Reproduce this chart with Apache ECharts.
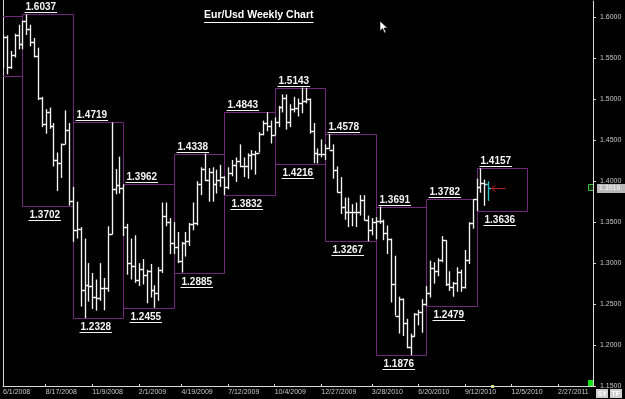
<!DOCTYPE html>
<html><head><meta charset="utf-8">
<script src="https://cdn.jsdelivr.net/npm/echarts@6/dist/echarts.min.js"></script>
<style>html,body{margin:0;padding:0;background:#000;}#c{width:625px;height:399px;}</style>
</head><body><div id="c"></div>
<script>
// ---------- DATA ----------
const titleText = 'Eur/Usd Weekly Chart';
const firstWeek = [2008, 3, 6];           // first weekly bar: Sunday 4/6/2008
const firstVisibleWeek = '6/1/2008';
const lastAxisWeek = '2/27/2011';
const tickLabels = ['6/1/2008','8/17/2008','11/9/2008','2/1/2009','4/19/2009','7/12/2009','10/4/2009','12/27/2009','3/28/2010','6/20/2010','9/12/2010','12/5/2010','2/27/2011'];
const priceTicks = [1.15, 1.20, 1.25, 1.30, 1.35, 1.40, 1.45, 1.50, 1.55, 1.60];
const currentPrice = 1.3916;

const opens = [
1.5750,1.5810,1.5910,1.5650,1.5470,1.5380,1.5500,1.5760,
1.5540,1.5760,1.5400,1.5540,1.5780,1.5670,1.5950,1.5860,1.5700,1.5530,1.5010,1.4700,1.4840,1.4680,1.4260,1.4220,1.4460,1.4620,
1.3760,1.3410,1.3420,1.2670,1.2730,1.2720,1.2590,1.2570,1.2700,1.2700,1.3350,1.3900,1.3950,
1.3920,1.3440,1.3000,1.2960,1.2800,1.2930,1.2850,1.2900,1.2670,1.2630,1.2920,1.3580,1.3500,
1.3250,1.3200,1.3030,1.3250,1.3270,1.3480,1.3490,1.3970,1.4150,1.4020,1.4110,1.3960,1.4020,
1.4050,1.3930,1.4100,1.4200,1.4250,1.4180,1.4190,1.4320,1.4330,1.4350,1.4580,1.4710,1.4680,
1.4570,1.4720,1.4910,1.5010,1.4720,1.4880,1.4890,1.4960,1.4980,1.5000,1.4610,1.4340,1.4330,
1.4330,1.4410,1.4380,1.4140,1.3870,1.3680,1.3620,1.3620,1.3630,1.3630,1.3770,1.3530,1.3410,
1.3500,1.3510,1.3510,1.3370,1.3290,1.2750,1.2360,1.2560,1.2270,1.1970,1.2110,1.2380,1.2400,
1.2500,1.2640,1.2940,1.2910,1.3040,1.3280,1.2750,1.2710,1.2760,1.2890,1.2710,1.3040,1.3490,
1.3780,1.3930,1.3980,1.3960];
const highs = [
1.5915,1.5980,1.6019,1.5700,1.5540,1.5560,1.5790,1.5820,
1.5785,1.5780,1.5590,1.5800,1.5910,1.5960,1.6037,1.5910,1.5750,1.5630,1.5030,1.4880,1.4900,1.4710,1.4350,1.4460,1.4865,1.4710,
1.3930,1.3750,1.3440,1.3300,1.3000,1.2880,1.2800,1.3000,1.2820,1.3450,1.4719,1.4150,1.4300,
1.3962,1.3480,1.3300,1.3340,1.3000,1.3050,1.2920,1.2990,1.2730,1.2950,1.3740,1.3740,1.3550,
1.3500,1.3380,1.3260,1.3380,1.3490,1.3740,1.4000,1.4170,1.4338,1.4160,1.4170,1.4140,1.4200,
1.4060,1.4170,1.4260,1.4290,1.4450,1.4290,1.4340,1.4380,1.4370,1.4600,1.4740,1.4843,1.4740,
1.4780,1.4920,1.5060,1.5060,1.4940,1.5030,1.5010,1.5143,1.5140,1.5010,1.4710,1.4400,1.4510,
1.4450,1.4578,1.4450,1.4180,1.4050,1.3800,1.3800,1.3720,1.3740,1.3830,1.3830,1.3580,1.3550,
1.3560,1.3691,1.3530,1.3460,1.3300,1.3090,1.2590,1.2570,1.2320,1.2140,1.2390,1.2430,1.2560,
1.2720,1.3030,1.3010,1.3060,1.3330,1.3280,1.2900,1.2770,1.2950,1.2920,1.3160,1.3500,1.3782,
1.4030,1.4157,1.4020,1.4000];
const lows = [
1.5680,1.5710,1.5610,1.5380,1.5330,1.5285,1.5480,1.5490,
1.5380,1.5305,1.5370,1.5510,1.5610,1.5610,1.5785,1.5645,1.5510,1.4990,1.4660,1.4580,1.4640,1.4180,1.3880,1.4040,1.4450,1.3702,
1.3260,1.3300,1.2470,1.2328,1.2530,1.2440,1.2420,1.2540,1.2425,1.2650,1.3350,1.3840,1.3850,
1.3330,1.2860,1.2800,1.2760,1.2720,1.2740,1.2510,1.2580,1.2455,1.2540,1.2880,1.3450,1.3110,
1.3110,1.3000,1.2885,1.3080,1.3210,1.3400,1.3460,1.3830,1.4000,1.3750,1.3750,1.3850,1.3930,
1.3832,1.3900,1.4060,1.3990,1.4170,1.4050,1.4030,1.4140,1.4080,1.4350,1.4560,1.4610,1.4460,
1.4560,1.4660,1.4840,1.4630,1.4660,1.4840,1.4790,1.4830,1.4950,1.4580,1.4220,1.4216,1.4290,
1.4260,1.4390,1.4030,1.3860,1.3600,1.3530,1.3440,1.3450,1.3440,1.3580,1.3520,1.3267,1.3340,
1.3290,1.3480,1.3280,1.3110,1.2520,1.2360,1.2140,1.2110,1.1960,1.1876,1.2100,1.2240,1.2150,
1.2479,1.2580,1.2750,1.2840,1.3010,1.2720,1.2660,1.2590,1.2650,1.2650,1.2690,1.2990,1.3420,
1.3636,1.3860,1.3700,1.3760];
const closes = [
1.5810,1.5910,1.5650,1.5470,1.5380,1.5500,1.5760,1.5540,
1.5760,1.5400,1.5540,1.5780,1.5670,1.5950,1.5860,1.5700,1.5530,1.5010,1.4700,1.4840,1.4680,1.4260,1.4220,1.4460,1.4620,1.3760,
1.3410,1.3420,1.2670,1.2730,1.2720,1.2590,1.2570,1.2700,1.2700,1.3350,1.3900,1.3950,1.3920,
1.3440,1.3000,1.2960,1.2800,1.2930,1.2850,1.2900,1.2670,1.2630,1.2920,1.3580,1.3500,1.3250,
1.3200,1.3030,1.3250,1.3270,1.3480,1.3490,1.3970,1.4150,1.4020,1.4110,1.3960,1.4020,1.4050,
1.3930,1.4100,1.4200,1.4250,1.4180,1.4190,1.4320,1.4330,1.4350,1.4580,1.4710,1.4680,1.4570,
1.4720,1.4910,1.5010,1.4720,1.4880,1.4890,1.4960,1.4980,1.5000,1.4610,1.4340,1.4330,1.4330,
1.4410,1.4380,1.4140,1.3870,1.3680,1.3620,1.3620,1.3630,1.3630,1.3770,1.3530,1.3410,1.3500,
1.3510,1.3510,1.3370,1.3290,1.2750,1.2360,1.2560,1.2270,1.1970,1.2110,1.2380,1.2400,1.2500,
1.2640,1.2940,1.2910,1.3040,1.3280,1.2750,1.2710,1.2760,1.2890,1.2710,1.3040,1.3490,1.3780,
1.3930,1.3980,1.3960,1.3916];

// ---------- BUILD ----------
const DAY = 86400000;
const t0 = Date.UTC(firstWeek[0], firstWeek[1], firstWeek[2]);
const fmt = d => (d.getUTCMonth() + 1) + '/' + d.getUTCDate() + '/' + d.getUTCFullYear();
const categories = [];
const catDates = [];
for (let k = 0; ; k++) {
  const d = new Date(t0 + k * 7 * DAY);
  categories.push(fmt(d)); catDates.push(d);
  if (fmt(d) === lastAxisWeek) { for (let j = 1; j <= 12; j++) { const e = new Date(t0 + (k + j) * 7 * DAY); categories.push(fmt(e)); catDates.push(e); } break; }
}
const xMin = categories.indexOf(firstVisibleWeek);
const xMax = categories.indexOf(lastAxisWeek) + 9;
const n = opens.length;
const barData = opens.map((o, i) => [i, o, highs[i], lows[i], closes[i]]);

// quarterly boxes (week belongs to the quarter of its starting Sunday)
const groups = [];
for (let i = 0; i < n; i++) {
  const d = catDates[i];
  const q = d.getUTCFullYear() * 4 + Math.floor(d.getUTCMonth() / 3);
  if (!groups.length || groups[groups.length - 1].q !== q) groups.push({ q, start: i, hi: -Infinity, lo: Infinity });
  const g = groups[groups.length - 1];
  g.hi = Math.max(g.hi, highs[i]); g.lo = Math.min(g.lo, lows[i]);
}
groups.forEach((g, k) => { g.end = k < groups.length - 1 ? groups[k + 1].start : g.start + 13; });
const boxData = groups.map(g => [g.start, g.end, g.hi, g.lo, g.start >= xMin ? 1 : 0]);

const FONT_FAMILY = 'Arial, "Liberation Sans", sans-serif';
const LABEL_FONT = 'bold 10px ' + FONT_FAMILY;
const TITLE_FONT = 'bold 10.5px ' + FONT_FAMILY;
const mctx = document.createElement('canvas').getContext('2d');
const textW = (t, f) => { mctx.font = f; return mctx.measureText(t).width; };

const WHITE = '#f4f4f4', CYAN = '#2ec4c8', BOX = '#72287a';
const crisp = v => Math.round(v) + 0.5;

const chart = echarts.init(document.getElementById('c'), null, { renderer: 'canvas' });
const isTick = (idx, val) => tickLabels.indexOf(val) >= 0;

chart.setOption({
  backgroundColor: '#000',
  animation: false,
  grid: { left: 0, right: 32, top: 1, bottom: 13 },
  xAxis: {
    type: 'category', data: categories, boundaryGap: false, min: xMin, max: xMax,
    axisLine: { lineStyle: { color: '#d8d8d8', width: 1 } },
    axisTick: { interval: isTick, inside: true, length: 2, lineStyle: { color: '#d8d8d8' } },
    axisLabel: { interval: isTick, align: 'left', color: '#c8c8c8', fontSize: 7, fontFamily: FONT_FAMILY, margin: 3 },
    splitLine: { show: false }
  },
  yAxis: {
    type: 'value', position: 'right', min: priceTicks[0], max: 1.62, interval: 0.05,
    axisLine: { show: true, lineStyle: { color: '#d8d8d8', width: 1 } },
    axisTick: { show: true, length: 3, lineStyle: { color: '#d8d8d8' } },
    axisLabel: { color: '#c8c8c8', fontSize: 7, fontFamily: FONT_FAMILY, margin: 7, showMaxLabel: false,
      formatter: v => priceTicks.some(p => Math.abs(p - v) < 1e-6) ? v.toFixed(4) : '' },
    splitLine: { show: false }
  },
  series: [
    {
      type: 'custom', name: 'quarters', data: boxData, clip: true, z: 1,
      renderItem: (params, api) => {
        const s = api.value(0), e = api.value(1), hi = api.value(2), lo = api.value(3), show = api.value(4);
        const p1 = api.coord([s, hi]), p2 = api.coord([e, lo]);
        const x1 = crisp(p1[0]), y1 = crisp(p1[1]), x2 = crisp(p2[0]), y2 = crisp(p2[1]);
        const children = [{ type: 'rect', shape: { x: x1, y: y1, width: x2 - x1, height: y2 - y1 }, style: { fill: 'none', stroke: BOX, lineWidth: 1 } }];
        if (show) {
          const ht = hi.toFixed(4), lt = lo.toFixed(4);
          const hw = textW(ht, LABEL_FONT), lw = textW(lt, LABEL_FONT);
          const hx = x1 + 3, lx = x1 + 7;
          children.push(
            { type: 'text', style: { text: ht, x: hx, y: y1 - 7, fill: WHITE, font: LABEL_FONT, align: 'left', verticalAlign: 'middle' } },
            { type: 'line', shape: { x1: hx - 1, y1: y1 - 2, x2: hx + hw + 1, y2: y1 - 2 }, style: { stroke: WHITE, lineWidth: 1 } },
            { type: 'text', style: { text: lt, x: lx, y: y2 + 8.5, fill: WHITE, font: LABEL_FONT, align: 'left', verticalAlign: 'middle' } },
            { type: 'line', shape: { x1: lx - 1, y1: y2 + 14, x2: lx + lw + 1, y2: y2 + 14 }, style: { stroke: WHITE, lineWidth: 1 } }
          );
        }
        return { type: 'group', children };
      }
    },
    {
      type: 'custom', name: 'EURUSD', data: barData, clip: true, z: 2,
      renderItem: (params, api) => {
        const i = api.value(0);
        const pO = api.coord([i, api.value(1)]);
        const yH = api.coord([i, api.value(2)])[1];
        const yL = api.coord([i, api.value(3)])[1];
        const yC = api.coord([i, api.value(4)])[1];
        const cx = crisp(pO[0]);
        const last = params.dataIndex === n - 1;
        const col = last ? CYAN : WHITE;
        const lw = 1.35;
        const children = [
          { type: 'line', shape: { x1: cx, y1: yH, x2: cx, y2: yL }, style: { stroke: col, lineWidth: lw } },
          { type: 'line', shape: { x1: cx - 2.5, y1: crisp(pO[1]), x2: cx, y2: crisp(pO[1]) }, style: { stroke: col, lineWidth: lw } },
          { type: 'line', shape: { x1: cx, y1: crisp(yC), x2: cx + 2.5, y2: crisp(yC) }, style: { stroke: col, lineWidth: lw } }
        ];
        if (last) {
          const ay = crisp(yC);
          children.push({ type: 'polyline', shape: { points: [[cx + 7, ay - 3], [cx + 3, ay], [cx + 7, ay + 3]] }, style: { stroke: '#b52020', fill: 'none', lineWidth: 1 } },
                        { type: 'line', shape: { x1: cx + 3, y1: ay, x2: cx + 17, y2: ay }, style: { stroke: '#b52020', lineWidth: 1 } });
        }
        return { type: 'group', children };
      }
    }
  ]
});

// decorations positioned through the chart's scales
const pPrice = chart.convertToPixel({ gridIndex: 0 }, [n - 1, currentPrice]);
const pAxisR = chart.convertToPixel({ gridIndex: 0 }, [xMax, priceTicks[0]]);
const pNow = chart.convertToPixel({ gridIndex: 0 }, [n, priceTicks[0]]);
const tw = textW(titleText, TITLE_FONT);
const tx = 204, ty = 16;
chart.setOption({
  graphic: [
    { type: 'text', left: tx, top: ty - 6, style: { text: titleText, font: TITLE_FONT, fill: '#ffffff' } },
    { type: 'line', shape: { x1: tx, y1: 22.5, x2: tx + tw, y2: 22.5 }, style: { stroke: '#ffffff', lineWidth: 1 } },
    // left frame line
    { type: 'line', shape: { x1: 3.5, y1: 0, x2: 3.5, y2: crisp(pAxisR[1]) }, style: { stroke: '#d8d8d8', lineWidth: 1 } },
    // current price tag
    { type: 'rect', shape: { x: pAxisR[0] + 4, y: Math.round(pPrice[1]) - 4, width: 30, height: 9 }, style: { fill: '#b9b9b9' } },
    { type: 'text', x: pAxisR[0] + 6, y: Math.round(pPrice[1]) + 0.5, style: { text: currentPrice.toFixed(4), font: '7px ' + FONT_FAMILY, fill: '#f8f8f8', verticalAlign: 'middle' } },
    { type: 'rect', shape: { x: pAxisR[0] - 4.5, y: Math.round(pPrice[1]) - 3.5, width: 5, height: 6 }, style: { fill: '#0a2a0a', stroke: '#3cc43c', lineWidth: 1 } },
    // bottom-right widgets
    { type: 'rect', shape: { x: pAxisR[0] - 5, y: pAxisR[1] - 6, width: 6, height: 6 }, style: { fill: '#18e018' } },
    { type: 'rect', shape: { x: pAxisR[0] + 3, y: pAxisR[1] + 3, width: 12, height: 9 }, style: { fill: '#cfcfcf' } },
    { type: 'rect', shape: { x: pAxisR[0] + 17, y: pAxisR[1] + 3, width: 12, height: 9 }, style: { fill: '#cfcfcf' } },
    { type: 'text', x: pAxisR[0] + 4.5, y: pAxisR[1] + 8, style: { text: 'SY', font: 'bold 7px ' + FONT_FAMILY, fill: '#ffffff', verticalAlign: 'middle' } },
    { type: 'text', x: pAxisR[0] + 18.5, y: pAxisR[1] + 8, style: { text: 'TF', font: 'bold 7px ' + FONT_FAMILY, fill: '#ffffff', verticalAlign: 'middle' } },
    // current-time marker on the axis
    { type: 'rect', shape: { x: pNow[0] - 1, y: pNow[1] - 1, width: 3, height: 3 }, style: { fill: '#e8e060' } },
    // mouse pointer
    { type: 'polygon', shape: { points: [[380, 21], [380, 31], [382.5, 28.5], [384.5, 33], [386, 32.3], [384, 28], [387.5, 28]] }, style: { fill: '#ffffff', stroke: '#000000', lineWidth: 0.6 } }
  ]
});
</script>
</body></html>
